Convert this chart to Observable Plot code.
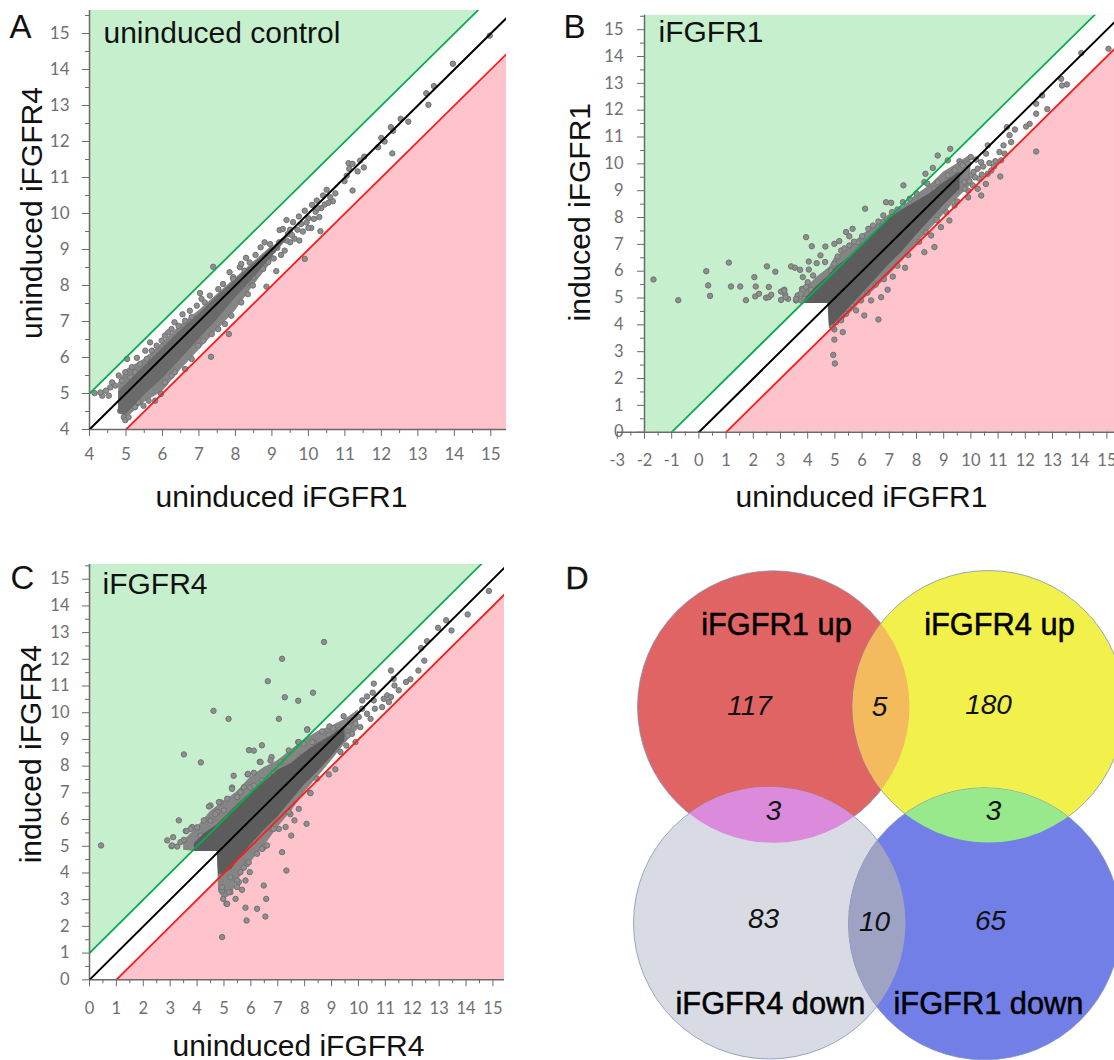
<!DOCTYPE html>
<html><head><meta charset="utf-8">
<script src="https://cdn.jsdelivr.net/npm/d3@7"></script>
<script src="https://cdn.jsdelivr.net/npm/@observablehq/plot@0.6"></script>
<style>
html,body{margin:0;padding:0;background:#fff;overflow:hidden;width:1114px;height:1060px}
#page{position:relative;width:1114px;height:1060px;overflow:hidden}
#page svg{position:absolute;overflow:hidden;background:transparent;max-width:none}
</style></head><body><div id="page"></div>
<script>
// ---------- values ----------
const pointsA = [[14.97,14.94],[13.96,14.16],[13.44,13.54],[13.23,13.34],[13.29,13.02],[12.53,12.63],[12.74,12.55],[12.26,12.4],[12.32,12.3],[12,12.1],[12.09,12],[11.91,11.84],[12.3,11.67],[11.53,11.58],[11.42,11.47],[11.1,11.4],[11.21,11.38],[11.52,11.28],[11.35,11.17],[11.12,11.24],[11.05,11.05],[10.99,10.9],[11.21,10.64],[10.74,10.56],[10.5,10.66],[10.67,10.34],[10.4,10.5],[10.23,10.36],[10.1,10.24],[9.9,10.08],[9.74,9.92],[9.4,9.82],[10,9.87],[10.3,9.9],[10.08,9.6],[10.33,9.51],[9.9,8.74],[9.12,8.4],[8.85,7.97],[9.21,9.54],[9.58,9.76],[9.8,9.71],[9.62,9.3],[9.3,9.57],[9.44,9.43],[8.8,9.2],[8.69,9.06],[8.29,8.77],[8.12,8.51],[9.03,8.97],[9.35,8.97],[8.76,8.46],[8.49,8.23],[7.94,8.23],[8.3,8.05],[10.45,10.25],[10.6,10.45],[10.2,10.05],[10.55,10.3],[9.95,9.75],[9.7,9.55],[9.5,9.2],[9.15,9.05],[8.9,8.65],[8.65,8.6],[8.95,8.85],[10.35,10.15],[10.15,9.85],[10.0,9.6],[9.85,9.5],[9.75,9.25],[9.55,9.4],[9.4,9.25],[9.2,9.2],[9.05,8.75],[8.85,8.8],[8.55,8.85],[8.95,9.15],[8.45,8.45],[9.25,8.85],[9.5,9.55],[10.25,10.15],
[4.14,5.01],[4.35,4.94],[4.3,5.03],[4.45,5.08],[4.53,4.94],[4.62,5.31],[4.57,5.17],[4.8,5.5],[4.89,5.36],[4.71,5.22],[5.03,5.96],[4.98,5.59],[5.12,5.45],[5.16,5.73],[5.3,5.99],[5.39,5.82],[5.25,5.59],[5.53,6.19],[5.57,5.96],[5.66,6.42],[5.71,6.19],[5.84,6.33],[6.07,6.61],[5.98,6.47],[6.16,6.7],[6.33,6.98],[6.25,6.79],[6.44,6.88],[6.55,7.2],[6.62,7.02],[6.75,7.3],[6.8,7.12],[6.94,7.44],[7.03,7.79],[7.07,7.63],[7.16,7.53],[7.3,7.72],[7.39,8.52],[7.53,7.9],[7.66,8.04],[7.84,8.37],[7.94,8.18],[8.16,8.6],[8.25,8.41],[8.39,8.64],
[4.94,4.34],[4.98,4.26],[5.07,4.34],[4.84,4.52],[4.89,4.71],[5.25,4.62],[5.48,4.66],[5.34,4.76],[5.62,4.8],[5.8,4.8],[5.96,4.99],[6.07,5.31],[6.25,5.5],[6.34,5.59],[6.62,5.68],[6.8,5.96],[7.33,6.02],[7.82,6.65],[7.12,6.47],[6.98,6.33],[7.35,6.65],[7.53,6.79],[7.71,6.93],[7.89,7.16],[8.16,7.53],[8.34,7.76],[8.48,8]];
const coreAx =    [4.8, 5,    5.5,  6,    6.5,  7,    7.5,  8,    8.5,  9,   9.4];
const coreAlow =  [4.45,4.4,  4.95, 5.4,  5.95, 6.5,  7.05, 7.65, 8.2,  8.8, 9.25];
const coreAhigh = [5.05,5.25, 5.75, 6.25, 6.75, 7.2,  7.7,  8.15, 8.6,  9.05,9.4];
const cloudAx =   [4.8, 5,    5.5,  6,    6.5,  7,    7.5,  8,    8.5,  9];
const cloudAlow = [4.5, 4.3,  4.75, 5.05, 5.65, 6.2,  6.75, 7.3,  8,    8.65];
const cloudAhigh =[5.3, 5.65, 5.95, 6.4,  6.9,  7.3,  7.75, 8.2,  8.65, 9.1];

const pointsB = [[-1.67,5.69],[-0.76,4.92],[0.27,6],[0.34,5.47],[0.41,5.08],[1.1,6.32],[1.18,5.43],[1.52,5.43],[2.04,5.78],[2.09,5.43],[2.5,6.18],[2.81,5.98],[1.73,4.92],[2.07,5.06],[2.21,5.16],[2.47,5.01],[2.57,5.03],[2.66,5.12],[2.57,5.41],[3.02,5.24],[3.14,5.31],[3.17,5.13],[3.28,4.97],[3.02,4.93],[3.39,6.18],[3.53,6.13],[3.72,6.05],[3.82,5.78],[3.94,7.27],[4.15,6.93],[4.65,6.92],[4.47,6.59],[4.04,6.36],[4.33,6.3],[4.64,6.34],[4.04,6.06],[4.2,5.84],[3.79,5.34],[3.63,5.1],[3.57,4.91],[3.76,4.91],[3.94,5.41],[4,5.59],[3.14,5.28],[3.18,5.03],[3.57,4.97],[3.81,5.28],[4.12,5.31],[3.88,4.97],[3.75,5.16],[4.24,5.1],[4.98,7.02],[5.16,7.12],[5.84,7.08],[5.53,6.96],[5.23,6.77],[4.98,6.28],[4.86,6.03],[4.61,5.59],[5.41,7.46],[5.53,7.3],[5.65,7.58],[6.23,7.58],[6.11,8.33],[6.76,7.83],[6.78,8.08],[6.88,8.57],[7.07,8.55],[7.5,8.57],[7.52,9.2],[8.29,9.32],[8.33,9.63],[8.6,9.85],[8.78,10.31],[9.15,10.13],[9.24,10.56],[5.1,6.55],[5.35,6.85],[5.7,7.1],[6.0,7.3],[6.4,7.7],[6.6,7.85],[7.1,8.2],[7.3,8.3],[7.75,8.7],[8.0,8.9],[8.4,9.26],[8.66,9.07],[8.9,8.76],[8.78,9.32],[9.15,9.57],[9.4,9.76],[9.46,9],[9.58,10.1],[9.64,10],[9.7,9.94],[10.01,9.57],[9.76,9.32],[10.25,9.07],[10.38,8.82],[10.25,9.82],[10.62,9.63],[10.19,10.16],[10.38,10.06],[10.68,10.03],[10.56,10.38],[10.62,10.69],[11.08,9.53],[11.11,10.13],[11.05,10.44],[11.24,10.38],[11.2,10.69],[11.48,10.81],[11.42,11.07],[11.62,11.28],[11.32,11.37],[12.03,11.39],[12.16,11.49],[12.4,11.87],[12.4,12.24],[12.62,12.55],[12.81,12.04],[12.4,10.46],[13.35,12.92],[13.53,12.96],[13.32,13.17],[14.06,14.13],[15.06,14.29],[10.0,10.25],[10.3,9.45],[10.45,9.9],[10.1,9.7],[9.9,10.0],[9.55,9.55],[9.3,9.3],[9.9,9.0],[10.55,9.25],[10.75,9.75],[10.9,10.1],
[4.98,3.45],[4.94,2.88],[5,2.56],[5.29,3.73],[4.98,3.83],[8.66,6.9],[8.29,6.71],[7.58,6.13],[7.13,5.8],[6.94,5.31],[6.6,4.2],[6.08,4.35],[6.7,5.03],[6.33,4.91],[5.96,4.91],[5.78,4.54],[5.41,4.41],[5.23,4.17],[5.04,4.1],[4.92,3.92],[9.21,7.89],[8.9,7.64],[8.54,7.33],[9.4,8.45],[9.77,9.07],[10.07,9.2],[5.6,4.75],[6.2,5.2],[6.5,5.5],[6.8,5.7],[7.3,6.2],[7.7,6.6],[8.1,7.1],[8.35,7.45],[8.75,7.9],[9.1,8.2],[9.5,8.6],[9.9,8.75],[9.95,9.35],[10.15,9.5],[10.4,9.6],[10.85,9.9]];
const coreBx =    [3.9, 4.3, 4.75,4.8, 5,   5.5, 6,   6.5, 7,   7.5, 8,   8.5, 9,   9.6];
const coreBlow =  [4.8, 4.8, 4.8, 3.95,4.05,4.6, 5.15,5.7, 6.25,6.75,7.35,7.9, 8.45,9.05];
const coreBhigh = [4.95,5.4, 5.8, 5.85,6.1, 6.5, 7,   7.5, 7.95,8.3, 8.6, 8.9, 9.3, 9.7];
const cloudBx =   [3.8, 4.3, 4.75,4.8, 5,   5.5, 6,   6.5, 7,   7.5, 8,   8.5, 9,   9.5,  10];
const cloudBlow = [4.8, 4.8, 4.8, 3.85,3.9, 4.35,4.9, 5.35,5.85,6.4, 7,   7.55,8.1, 8.7,  9.2];
const cloudBhigh =[5.2, 5.75,6.1, 6.15,6.5, 6.85,7.35,7.7, 8.1, 8.4, 8.85,9.2, 9.7, 10,   10.35];

const pointsC = [[0.43,5.03],[8.72,12.65],[7.16,12.02],[6.63,11.18],[7.26,10.58],[8.31,10.75],[7.76,10.45],[4.61,10.07],[5.17,9.77],[7.04,9.77],[9.45,9.87],[8.1,9.38],[3.51,8.44],[4.14,8.14],[5.93,8.6],[6.11,8.58],[6.41,8.78],[7.76,8.9],[7.41,8.59],[6.77,8.34],[6.33,8.16],[5.36,7.64],[5.88,7.69],[6.11,7.75],[5.3,7.2],[3.32,5.97],[3.58,5.57],[2.89,5.22],[3.11,5.34],[3.05,5],[3.38,5.15],[3.82,5.72],[4.5,6.53],[4.87,6.65],[4.25,5.97],[4.75,6.28],[5.61,7.03],[5.98,7.2],[3.07,5.03],[3.26,4.99],[3.51,5.24],[3.76,5.65],[4,5.71],[4.44,6.49],[4.81,6.65],[4.5,5.96],[4.99,6.34],[5.3,7.15],[5.49,6.84],[5.89,7.71],[6.36,8.15],[6.73,8.21],[6.85,7.77],[7.1,8.15],[7.78,8.9],[8.09,9.36],[8.34,8.9],[6.11,7.27],[6.42,7.46],[5.74,7.21],[5.12,6.78],[4.68,6.2],[4.13,5.4],[3.61,5.57],
[4.93,1.6],[5.84,2.22],[6.54,2.37],[5.8,2.7],[6.23,2.66],[6.57,3.03],[6.48,3.53],[5.09,2.85],[4.97,3.03],[5.43,3.03],[5.24,3.28],[5.67,3.37],[5.49,3.47],[4.93,3.35],[7.32,4.09],[7.16,4.78],[8.07,5.84],[7.5,5.4],[7.29,5.72],[7.78,6.4],[7.62,5.97],[8.2,7],[8.9,7.69],[9.14,7.88],[5.96,4.03],[5.86,4.34],[6.48,4.97],[6.23,4.72],[6.6,5.03],[5.55,3.66],[5.61,4.03],[6.79,5.65],[7.04,5.65],[7.47,6.2],[5.24,3.84],[5.12,2.84],[5.18,3.28],[4.93,3.47],[5.49,3.72],[5.8,3.72],[5.92,4.4],[5.74,4.2],[6.42,4.9],[6.11,5.2],[6.85,5.65],[7.41,6.28],[8.46,7.53],[8.22,6.99],
[14.85,14.56],[14.06,13.68],[13.26,13.46],[12.96,13.18],[13.46,13.08],[12.55,12.68],[12.33,12.42],[12.45,11.95],[12.23,11.58],[11.21,11.58],[11.93,11.25],[11.77,11.15],[11.31,11.27],[11.34,11.02],[11.5,10.84],[10.57,11.09],[10.53,10.75],[10.32,10.61],[10.14,10.46],[10.57,10.46],[11.07,10.65],[10.94,10.52],[11.21,10.59],[11.13,10.4],[10.88,10.21],[10.61,10.15],[10.14,10.15],[10.32,9.96],[10.45,9.77],[10.01,9.84],[9.89,9.59],[9.64,9.46],[10.07,9.46],[9.76,9.21],[9.89,8.9],[8.92,9.49],[9.06,9.41],[8.65,9.3],[8.9,9.15],[9.45,9.03],[9.21,8.9],[9.55,8.77],[8.28,8.9],[7.97,8.84],[8.96,8.71],[9.33,8.53],[8.59,8.59],[8.22,8.59],[7.84,8.34],[8.84,8.4],[8.34,8.34],[9.7,9.7],[9.3,9.35],[9.6,9.15],[9.15,8.65],[8.7,8.25],[8.3,7.9],[8,7.55]];
const coreCx =    [3.9, 4.3, 4.75,4.8, 5,   5.3, 5.5, 6,   6.5, 7,   7.5, 8,   8.5, 9,   9.5];
const coreClow =  [4.8, 4.8, 4.8, 3.95,3.95,4.15,4.45,5.05,5.6, 6.1, 6.7, 7.3, 7.8, 8.35,8.95];
const coreChigh = [5.1, 5.5, 5.8, 5.85,6.05,6.35,6.55,7,   7.4, 7.85,8.1, 8.5, 8.85,9.15,9.5];
const cloudCx =   [3.5, 4,   4.5, 4.75,4.8, 5,   5.3, 5.5, 6,   6.5, 7,   7.5, 8,   8.5, 9,   9.5,  10];
const cloudClow = [4.85,4.8, 4.8, 4.8, 3.3, 3.0, 3.2, 3.7, 4.4, 5,   5.7, 6.3, 7,   7.6, 8.2, 8.85, 9.4];
const cloudChigh= [5.2, 5.7, 6.3, 6.5, 6.55,6.7, 6.9, 7.05,7.6, 7.95,8.2, 8.6, 9,   9.3, 9.5, 9.75, 10.1];

const ticksAx = d3.range(4,16), ticksAy = d3.range(4,16);
const ticksBx = d3.range(-3,16), ticksBy = d3.range(0,16);
const ticksCx = d3.range(0,16), ticksCy = d3.range(0,16);

const vennSets = ["iFGFR1 up","iFGFR4 up","iFGFR4 down","iFGFR1 down"];
const vennSetX = [773,988,769,984];
const vennSetY = [706.3,706,922.5,923.3];
const vennSetFill = ["#e06464","#f2f04a","#d9dbe4","#717fe6"];
const vennLabelX = [776,999,770,988];
const vennLabelY = [625,625,1004,1004];
const vennCounts = ["117","5","180","3","3","83","10","65"];
const vennCountX = [749,879,988,773,993,763,874,990];
const vennCountY = [705.5,707,705,811,811,919,922,921];
const vennPairs = [[0,1,"#f4bb5e"],[0,2,"#dc8adc"],[1,3,"#98e88c"],[2,3,"#9ea3c4"]];

// ---------- shared style ----------
const greenFill="#c6efcd", redFill="#ffc3cb", greenLine="#0bab4f", redLine="#fb1c1c";
const axisGray="#6a6a6a", tickGray="#6f6f6f";
const arial="'Liberation Sans',Arial,sans-serif", calibri="Lato,'Open Sans',sans-serif";
const page=document.getElementById("page");

function panel(c){
  const [xmin,xmax]=c.xDomain,[ymin,ymax]=c.yDomain;
  const xs=[c.xStart??xmin,xmax];
  const table=c.points.map(([x,y])=>({x,y}));
  const core=c.coreX.map((x,i)=>({x,lo:c.coreLow[i],hi:c.coreHigh[i]}));
  const cloud=c.cloudX.map((x,i)=>({x,lo:c.cloudLow[i],hi:c.cloudHigh[i]}));
  const half=t=>t.slice(0,-1).map(v=>v+0.5);
  const label={lineAnchor:"middle",fontFamily:arial,fill:"#111"};
  const chart=Plot.plot({
    width:c.width,height:c.height,
    marginLeft:c.m[0],marginTop:c.m[1],marginRight:c.m[2],marginBottom:c.m[3],
    x:{domain:c.xDomain,axis:null},y:{domain:c.yDomain,axis:null},
    marks:[
      Plot.areaY(xs,{x:d=>d,y1:d=>d+1,y2:()=>ymax,fill:greenFill,clip:true}),
      Plot.areaY(xs,{x:d=>d,y1:()=>ymin,y2:d=>d-1,fill:redFill,clip:true}),
      Plot.ruleX([xmin],{stroke:axisGray,strokeWidth:1.5}),
      Plot.ruleY([ymin],{x1:c.axisStart??xmin,x2:xmax,stroke:axisGray,strokeWidth:1.5}),
      Plot.axisX(c.xTicks,{anchor:"bottom",label:null,tickSize:c.ts,tickPadding:c.xPad,fontSize:c.fs,fontFamily:calibri,stroke:axisGray,fill:tickGray,tickFormat:d=>`${d}`}),
      Plot.axisX(half(c.xTicks),{anchor:"bottom",label:null,tickSize:4,stroke:axisGray,fill:"none"}),
      Plot.axisY(c.yTicks,{anchor:"left",label:null,tickSize:c.ts,tickPadding:c.yPad,fontSize:c.fs,fontFamily:calibri,stroke:axisGray,fill:tickGray,tickFormat:d=>`${d}`}),
      Plot.axisY(half(c.yTicks.concat(c.yTicks[c.yTicks.length-1]+1)),{anchor:"left",label:null,tickSize:4,stroke:axisGray,fill:"none"}),
      Plot.areaY(cloud,{x:"x",y1:"lo",y2:"hi",fill:"#858585"}),
      Plot.dot(table,{x:"x",y:"y",r:2.7,fill:"#8e8e8e",stroke:"#727272",strokeWidth:1}),
      Plot.areaY(core,{x:"x",y1:"lo",y2:"hi",fill:c.coreFill}),
      Plot.line(xs,{x:d=>d,y:d=>d+1,stroke:greenLine,strokeWidth:1.8,clip:true}),
      Plot.line(xs,{x:d=>d,y:d=>d-1,stroke:redLine,strokeWidth:1.8,clip:true}),
      Plot.line(xs,{x:d=>d,y:d=>d,stroke:"#000",strokeWidth:2,clip:true}),
      Plot.text([c.title],{...label,frameAnchor:"top-left",textAnchor:"start",dx:c.titleD[0],dy:c.titleD[1],fontSize:30}),
      Plot.text([c.letter],{...label,frameAnchor:"top-left",textAnchor:"start",dx:c.letterD[0],dy:c.letterD[1],fontSize:33}),
      Plot.text([c.xLabel],{...label,frameAnchor:"bottom",textAnchor:"middle",dx:c.xLabelD[0],dy:c.xLabelD[1],fontSize:30}),
      Plot.text([c.yLabel],{...label,frameAnchor:"left",textAnchor:"middle",rotate:-90,dx:c.yLabelD[0],dy:c.yLabelD[1],fontSize:30})
    ]
  });
  chart.style.left=c.left+"px";chart.style.top=c.top+"px";
  page.appendChild(chart);
}

panel({letter:"A",title:"uninduced control",xLabel:"uninduced iFGFR1",yLabel:"uninduced iFGFR4",
  points:pointsA,coreX:coreAx,coreLow:coreAlow,coreHigh:coreAhigh,coreFill:"#6a6a6a",cloudX:cloudAx,cloudLow:cloudAlow,cloudHigh:cloudAhigh,
  left:0,top:0,width:540,height:520,m:[89,10,34,91],xDomain:[4,15.43],yDomain:[4,15.64],
  xTicks:ticksAx,yTicks:ticksAy,ts:7,xPad:11,yPad:13,fs:17,
  titleD:[14,23],letterD:[-80,17],xLabelD:[-16.5,68],yLabelD:[-57,-7]});

panel({letter:"B",title:"iFGFR1",xLabel:"uninduced iFGFR1",yLabel:"induced iFGFR1",
  points:pointsB,coreX:coreBx,coreLow:coreBlow,coreHigh:coreBhigh,coreFill:"#5c5c5c",cloudX:cloudBx,cloudLow:cloudBlow,cloudHigh:cloudBhigh,
  left:560,top:0,width:554,height:520,m:[84,14.7,0,88.3],xDomain:[-2,15.28],yDomain:[0,15.54],
  axisStart:-3,xTicks:ticksBx,yTicks:ticksBy,ts:7,xPad:15,yPad:14,fs:16.5,
  titleD:[14,17],letterD:[-81,12],xLabelD:[-18,65],yLabelD:[-64,-11.5]});

panel({letter:"C",title:"iFGFR4",xLabel:"uninduced iFGFR4",yLabel:"induced iFGFR4",
  points:pointsC,coreX:coreCx,coreLow:coreClow,coreHigh:coreChigh,coreFill:"#5c5c5c",cloudX:cloudCx,cloudLow:cloudClow,cloudHigh:cloudChigh,
  left:0,top:540,width:540,height:520,m:[89,24,36,80.7],xDomain:[0,15.43],yDomain:[0,15.55],
  xTicks:ticksCx,yTicks:ticksCy,ts:7,xPad:15,yPad:13,fs:16.5,
  titleD:[13,20],letterD:[-79,14],xLabelD:[1.5,66.7],yLabelD:[-58,-18]});

// ---------- panel D ----------
const R=136;
const sets=vennSets.map((name,i)=>({name,x:vennSetX[i],y:vennSetY[i],fill:vennSetFill[i]}));
let clipN=0;
function lens([a,b,fill]){
  return Plot.dot([sets[a]],{x:"x",y:"y",r:R,fill,render(index,scales,values,dims,ctx,next){
    const g=next(index,scales,values,dims,ctx);
    const ns="http://www.w3.org/2000/svg",id="venn-clip-"+(clipN++);
    const cp=document.createElementNS(ns,"clipPath");cp.setAttribute("id",id);
    const ci=document.createElementNS(ns,"circle");
    ci.setAttribute("cx",scales.x(sets[b].x));ci.setAttribute("cy",scales.y(sets[b].y));ci.setAttribute("r",R);
    cp.appendChild(ci);g.appendChild(cp);g.setAttribute("clip-path",`url(#${id})`);
    return g;
  }});
}
const venn=Plot.plot({
  width:574,height:520,margin:0,
  x:{domain:[540,1114],range:[0,574],axis:null},
  y:{domain:[540,1060],range:[0,520],axis:null},
  marks:[
    Plot.dot(sets,{x:"x",y:"y",r:R,fill:"fill",stroke:"#8094b4",strokeWidth:0.8}),
    ...vennPairs.map(lens),
    Plot.text(vennSets,{x:(d,i)=>vennLabelX[i],y:(d,i)=>vennLabelY[i],text:d=>d,fontSize:30.8,fontFamily:arial,fill:"#000",stroke:"#000",strokeWidth:0.5,paintOrder:"stroke"}),
    Plot.text(vennCounts,{x:(d,i)=>vennCountX[i],y:(d,i)=>vennCountY[i],text:d=>d,fontSize:28,fontStyle:"italic",fontFamily:arial,fill:"#111"}),
    Plot.text(["D"],{frameAnchor:"top-left",textAnchor:"start",lineAnchor:"middle",dx:25,dy:38,fontSize:32,fontFamily:arial,fill:"#111",stroke:"#111",strokeWidth:0.4})
  ]
});
venn.style.left="540px";venn.style.top="540px";
page.appendChild(venn);
</script></body></html>
